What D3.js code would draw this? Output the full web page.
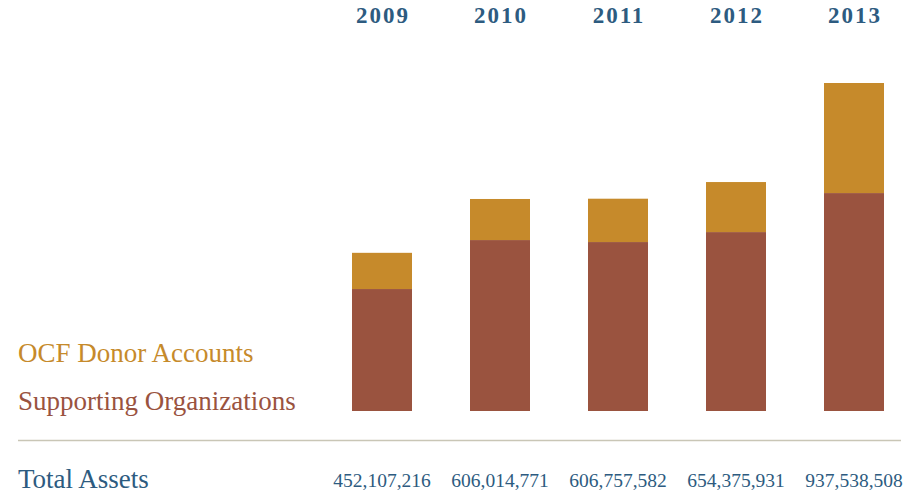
<!DOCTYPE html>
<html lang="en">
<head>
    <meta charset="UTF-8">
    <title>Total Assets</title>
    <script src="https://d3js.org/d3.v7.min.js"></script>
    <style>
        body { margin: 0; background: #fff; }
        text { font-family: "Liberation Serif", "DejaVu Serif", serif; }
    </style>
</head>
<body>
<svg></svg>
<script>
    // values in millions of dollars
    let years = ["2009", "2010", "2011", "2012", "2013"];
    let supporting = [348.6, 488.6, 482.9, 511.4, 622.9];
    let donor = [103.5, 117.4, 123.9, 143.0, 314.6];
    let totals = ["452,107,216", "606,014,771", "606,757,582", "654,375,931", "937,538,508"];

    let width = 924, height = 495;
    let svg = d3.select("svg").attr("width", width).attr("height", height);

    let blue = "#2d5b80", gold = "#c68a2b", rust = "#9a533f";

    // step 118, bar width 60
    let x = d3.scaleBand()
        .domain(years)
        .range([352, 884])
        .paddingInner(58 / 118)
        .paddingOuter(0);

    let y = d3.scaleLinear()
        .domain([0, 937.5])
        .range([411, 83]);

    let stacked = years.map((yr, i) => ({year: yr, s: supporting[i], d: donor[i]}));

    // supporting organizations (bottom)
    svg.selectAll("rect.sup")
        .data(stacked)
        .join("rect")
        .attr("class", "sup")
        .attr("x", d => x(d.year))
        .attr("width", x.bandwidth())
        .attr("y", d => y(d.s))
        .attr("height", d => y(0) - y(d.s))
        .attr("fill", rust);

    // donor accounts (top)
    svg.selectAll("rect.don")
        .data(stacked)
        .join("rect")
        .attr("class", "don")
        .attr("x", d => x(d.year))
        .attr("width", x.bandwidth())
        .attr("y", d => y(d.s + d.d))
        .attr("height", d => y(d.s) - y(d.s + d.d))
        .attr("fill", gold);

    // year labels
    svg.selectAll("text.year")
        .data(years)
        .join("text")
        .attr("class", "year")
        .attr("x", d => x(d) + x.bandwidth() / 2 + 1)
        .attr("y", 23)
        .attr("text-anchor", "middle")
        .attr("font-size", 23)
        .attr("font-weight", "bold")
        .attr("letter-spacing", 2)
        .attr("fill", blue)
        .text(d => d);

    // legend
    svg.append("text")
        .attr("x", 18).attr("y", 362)
        .attr("font-size", 27)
        .attr("fill", gold)
        .text("OCF Donor Accounts");

    svg.append("text")
        .attr("x", 18).attr("y", 410)
        .attr("font-size", 27)
        .attr("fill", rust)
        .text("Supporting Organizations");

    // divider
    svg.append("line")
        .attr("x1", 18).attr("x2", 901)
        .attr("y1", 440.5).attr("y2", 440.5)
        .attr("stroke", "#c9c6b6")
        .attr("stroke-width", 1.5);

    svg.append("text")
        .attr("x", 18).attr("y", 488)
        .attr("font-size", 27)
        .attr("fill", blue)
        .text("Total Assets");

    svg.selectAll("text.total")
        .data(totals)
        .join("text")
        .attr("class", "total")
        .attr("x", (d, i) => x(years[i]) + x.bandwidth() / 2)
        .attr("y", 487)
        .attr("text-anchor", "middle")
        .attr("font-size", 19.5)
        .attr("fill", blue)
        .text(d => d);
</script>
</body>
</html>
